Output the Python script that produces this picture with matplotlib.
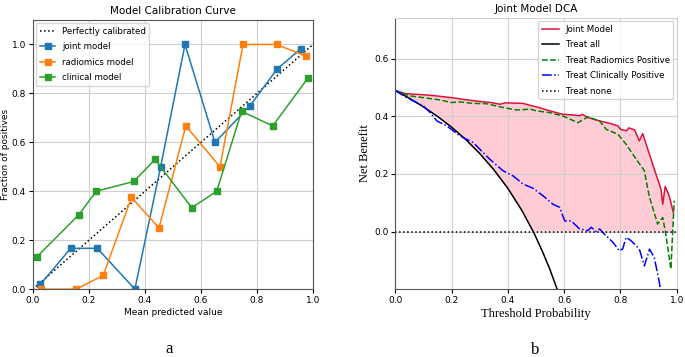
import numpy as np
import matplotlib
matplotlib.use("Agg")
import matplotlib.pyplot as plt

# ---- calibration curve data (panel a) ----
joint_x = [0.027, 0.135, 0.23, 0.364, 0.456, 0.543, 0.65, 0.775, 0.872, 0.957]
joint_y = [0.02, 0.167, 0.167, 0.0, 0.5, 1.0, 0.6, 0.75, 0.9, 0.983]
radio_x = [0.03, 0.154, 0.251, 0.352, 0.45, 0.546, 0.668, 0.75, 0.87, 0.975]
radio_y = [0.0, 0.0, 0.056, 0.375, 0.25, 0.667, 0.5, 1.0, 1.0, 0.952]
clin_x = [0.015, 0.164, 0.226, 0.36, 0.436, 0.567, 0.656, 0.745, 0.856, 0.982]
clin_y = [0.133, 0.304, 0.4, 0.44, 0.53, 0.333, 0.4, 0.727, 0.667, 0.863]

# ---- decision curve data (panel b) ----
dca_joint_t = [0, 0.035, 0.1, 0.136, 0.2, 0.242, 0.289, 0.34, 0.372, 0.39, 0.42, 0.454,
               0.48, 0.513, 0.549, 0.596, 0.63, 0.655, 0.665, 0.684, 0.726, 0.761, 0.791,
               0.80, 0.822, 0.83, 0.85, 0.867, 0.879, 0.897, 0.92, 0.944, 0.95, 0.959,
               0.973, 0.988]
dca_joint_nb = [0.49, 0.479, 0.475, 0.472, 0.465, 0.459, 0.453, 0.448, 0.442, 0.447, 0.446,
                0.445, 0.438, 0.43, 0.419, 0.407, 0.405, 0.402, 0.407, 0.396, 0.384, 0.376,
                0.367, 0.355, 0.35, 0.36, 0.353, 0.315, 0.34, 0.286, 0.217, 0.147, 0.095,
                0.157, 0.124, 0.066]

all_t = [0, 0.05, 0.1, 0.15, 0.2, 0.25, 0.3, 0.35, 0.4, 0.45, 0.49, 0.5, 0.525, 0.55,
         0.575, 0.6]
all_nb = [0.49, 0.463, 0.433, 0.400, 0.3625, 0.320, 0.271, 0.215, 0.150, 0.073, 0.0,
          -0.02, -0.074, -0.133, -0.200, -0.275]

radio_t = [0, 0.053, 0.1, 0.159, 0.2, 0.23, 0.277, 0.324, 0.372, 0.431, 0.48, 0.502,
           0.549, 0.596, 0.649, 0.684, 0.726, 0.749, 0.791, 0.82, 0.856, 0.885, 0.897,
           0.905, 0.932, 0.95, 0.96, 0.979, 0.991]
radio_nb = [0.49, 0.471, 0.465, 0.457, 0.448, 0.45, 0.445, 0.444, 0.433, 0.422, 0.425,
            0.419, 0.413, 0.401, 0.378, 0.398, 0.384, 0.355, 0.338, 0.303, 0.251, 0.211,
            0.147, 0.113, 0.026, 0.049, -0.003, -0.13, 0.107]

clin_t = [0, 0.041, 0.1, 0.124, 0.148, 0.183, 0.23, 0.277, 0.336, 0.383, 0.419, 0.454,
          0.49, 0.525, 0.56, 0.584, 0.602, 0.625, 0.655, 0.684, 0.696, 0.714, 0.726,
          0.743, 0.773, 0.796, 0.808, 0.82, 0.838, 0.867, 0.885, 0.903, 0.92, 0.938, 0.95]
clin_nb = [0.49, 0.465, 0.436, 0.413, 0.384, 0.367, 0.332, 0.309, 0.251, 0.211, 0.193,
           0.165, 0.15, 0.124, 0.095, 0.084, 0.037, 0.037, 0.009, 0.003, 0.015, 0.0, 0.009,
           -0.009, -0.037, -0.067, -0.06, -0.02, -0.032, -0.061, -0.119, -0.061, -0.09,
           -0.176, -0.25]

fig = plt.figure(figsize=(6.85, 3.57), dpi=100)
plt.rcParams['font.size'] = 7

# panel a
ax1 = fig.add_axes([0.048, 0.19, 0.409, 0.754])
ax1.plot([0, 1], [0, 1], 'k:', lw=1.1, label='Perfectly calibrated')
ax1.plot(joint_x, joint_y, 's-', color='#1f77b4', ms=5, lw=1.1, label='joint model')
ax1.plot(radio_x, radio_y, 's-', color='#ff7f0e', ms=5, lw=1.1, label='radiomics model')
ax1.plot(clin_x, clin_y, 's-', color='#2ca02c', ms=5, lw=1.1, label='clinical model')
ax1.set_xlim(0, 1)
ax1.set_ylim(0, 1.1)
ax1.set_yticks([0, 0.2, 0.4, 0.6, 0.8, 1.0])
ax1.grid(True, color='#d0d0d0', lw=0.8)
for s in ax1.spines.values():
    s.set_color('#555555')
ax1.tick_params(labelsize=6.5, length=3, pad=2)
ax1.set_title('Model Calibration Curve', fontsize=7.5, pad=4)
ax1.set_xlabel('Mean predicted value', fontsize=6.5, labelpad=2)
ax1.set_ylabel('Fraction of positives', fontsize=6.5, labelpad=1)
ax1.legend(loc='upper left', fontsize=6.2, handlelength=1.8, borderaxespad=0.4,
           labelspacing=0.75)

# panel b
ax2 = fig.add_axes([0.577, 0.19, 0.411, 0.76])
lower_t = [t for t, v in zip(all_t, all_nb) if v >= 0] + [dca_joint_t[-1]]
lower_nb = [v for v in all_nb if v >= 0] + [0.0]
ax2.fill(dca_joint_t + lower_t[::-1], dca_joint_nb + lower_nb[::-1],
         color='pink', alpha=0.8, lw=0)
ax2.plot(dca_joint_t, dca_joint_nb, color='crimson', lw=1.1, label='Joint Model')
ax2.plot(all_t, all_nb, color='black', lw=1.1, label='Treat all')
ax2.plot(radio_t, radio_nb, color='green', ls='--', lw=1.1,
         label='Treat Radiomics Positive')
ax2.plot(clin_t, clin_nb, color='blue', ls='-.', lw=1.1,
         label='Treat Clinically Positive')
ax2.plot([0, 1], [0, 0], color='black', ls=':', lw=1.1, label='Treat none')
ax2.set_xlim(0, 1)
ax2.set_ylim(-0.2, 0.742)
ax2.set_yticks([0, 0.2, 0.4, 0.6])
ax2.set_xticks([0, 0.2, 0.4, 0.6, 0.8, 1.0])
ax2.grid(True, color='#d0d0d0', lw=0.8)
ax2.spines['top'].set_color('#d0d0d0')
ax2.spines['right'].set_color('#d0d0d0')
ax2.spines['left'].set_color('#555555')
ax2.spines['bottom'].set_color('#555555')
ax2.tick_params(labelsize=6.5, length=3, pad=2)
ax2.set_title('Joint Model DCA', fontsize=7.5, pad=4)
ax2.set_xlabel('Threshold Probability', family='Liberation Serif', fontsize=9, labelpad=2)
ax2.set_ylabel('Net Benefit', family='Liberation Serif', fontsize=9, labelpad=2)
ax2.legend(loc='upper right', fontsize=6.2, handlelength=2.0, borderaxespad=0.4,
           labelspacing=0.75)

fig.text(0.247, 0.022, 'a', family='Liberation Serif', fontsize=12, ha='center', va='center')
fig.text(0.781, 0.02, 'b', family='Liberation Serif', fontsize=12, ha='center', va='center')

fig.savefig('out.png', dpi=100)
